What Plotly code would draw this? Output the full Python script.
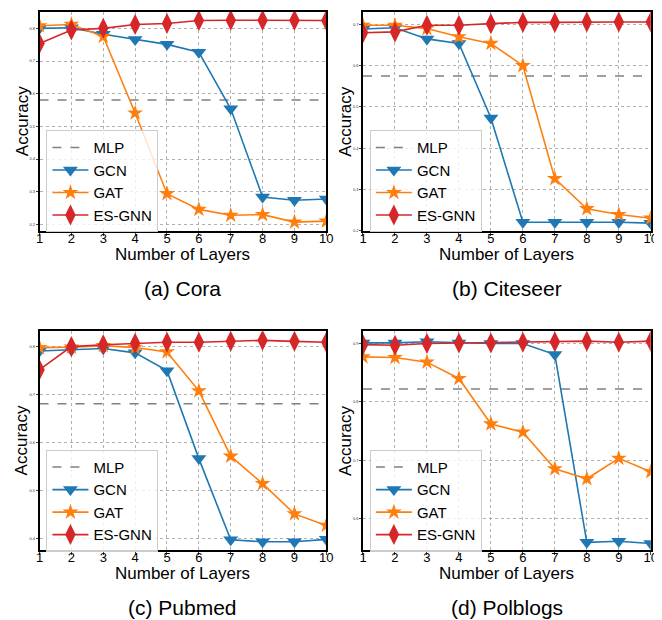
import plotly.graph_objects as go

layers = [1, 2, 3, 4, 5, 6, 7, 8, 9, 10]

cora_gcn = [0.800, 0.802, 0.782, 0.766, 0.751, 0.727, 0.554, 0.284, 0.274, 0.278]
cora_gat = [0.808, 0.812, 0.775, 0.541, 0.294, 0.246, 0.228, 0.230, 0.207, 0.210]
cora_es = [0.754, 0.795, 0.800, 0.812, 0.815, 0.824, 0.825, 0.825, 0.825, 0.824]
cora_mlp = 0.581

cite_gcn = [0.689, 0.692, 0.665, 0.654, 0.473, 0.220, 0.220, 0.220, 0.220, 0.218]
cite_gat = [0.698, 0.698, 0.690, 0.670, 0.654, 0.600, 0.326, 0.253, 0.239, 0.230]
cite_es = [0.680, 0.682, 0.698, 0.698, 0.702, 0.705, 0.705, 0.706, 0.706, 0.706]
cite_mlp = 0.575

pub_gcn = [0.790, 0.792, 0.795, 0.786, 0.749, 0.566, 0.397, 0.393, 0.393, 0.398]
pub_gat = [0.797, 0.798, 0.801, 0.797, 0.788, 0.707, 0.571, 0.514, 0.451, 0.427]
pub_es = [0.751, 0.799, 0.803, 0.806, 0.808, 0.808, 0.810, 0.812, 0.810, 0.808]
pub_mlp = 0.680

pol_gcn = [0.901, 0.901, 0.903, 0.901, 0.900, 0.900, 0.881, 0.559, 0.561, 0.557]
pol_gat = [0.877, 0.876, 0.868, 0.840, 0.762, 0.748, 0.685, 0.668, 0.703, 0.680]
pol_es = [0.898, 0.897, 0.900, 0.901, 0.901, 0.902, 0.903, 0.904, 0.902, 0.904]
pol_mlp = 0.822

captions = ["(a) Cora", "(b) Citeseer", "(c) Pubmed", "(d) Polblogs"]
y_ranges = [[0.18, 0.851], [0.199, 0.731], [0.376, 0.831], [0.546, 0.921]]
y_ticks = [[0.2, 0.3, 0.4, 0.5, 0.6, 0.7, 0.8],
           [0.2, 0.3, 0.4, 0.5, 0.6, 0.7],
           [0.4, 0.5, 0.6, 0.7, 0.8],
           [0.6, 0.7, 0.8, 0.9]]

datasets = [
    (cora_gcn, cora_gat, cora_es, cora_mlp),
    (cite_gcn, cite_gat, cite_es, cite_mlp),
    (pub_gcn, pub_gat, pub_es, pub_mlp),
    (pol_gcn, pol_gat, pol_es, pol_mlp),
]

# page body has an 8px margin; figure is sized so page fits 662x620
OFF = 8
W, H = 662 - OFF, 620 - OFF
FONT = "Liberation Sans, Arial, Helvetica, sans-serif"


def px(xp):
    return (xp - OFF) / W


def py(yp):
    return 1 - (yp - OFF) / H


# pixel boxes for panels in page coordinates: (x0, x1, ytop, ybottom)
boxes = [(36, 327.7, 11.7, 231.7), (365, 657.7, 11.7, 231.7),
         (36, 327.7, 332.3, 551.7), (365, 657.7, 332.3, 551.7)]

fig = go.Figure()
layout = dict(width=W, height=H, margin=dict(l=0, r=0, t=0, b=0),
              paper_bgcolor="white", plot_bgcolor="white", showlegend=True,
              font=dict(family=FONT, color="black"))
annotations = []

C_GCN, C_GAT, C_ES, C_MLP = "#1f77b4", "#ff7f0e", "#d62728", "#808080"

for i, (gcn, gat, es, mlp) in enumerate(datasets):
    n = i + 1
    xa = "x" if n == 1 else f"x{n}"
    ya = "y" if n == 1 else f"y{n}"
    lg = "legend" if n == 1 else f"legend{n}"
    x0, x1, yt, yb = boxes[i]
    fig.add_trace(go.Scatter(x=[layers[0], layers[-1]], y=[mlp, mlp], mode="lines",
                             name="MLP", line=dict(color=C_MLP, dash="dash", width=1.5),
                             xaxis=xa, yaxis=ya, legend=lg))
    fig.add_trace(go.Scatter(x=layers, y=gcn, mode="lines+markers", name="GCN",
                             line=dict(color=C_GCN, width=1.6),
                             marker=dict(symbol="triangle-down", size=13, color=C_GCN),
                             xaxis=xa, yaxis=ya, legend=lg))
    fig.add_trace(go.Scatter(x=layers, y=gat, mode="lines+markers", name="GAT",
                             line=dict(color=C_GAT, width=1.6),
                             marker=dict(symbol="star", size=12, color=C_GAT),
                             xaxis=xa, yaxis=ya, legend=lg))
    fig.add_trace(go.Scatter(x=layers, y=es, mode="lines+markers", name="ES-GNN",
                             line=dict(color=C_ES, width=1.6),
                             marker=dict(symbol="diamond-tall", size=15, color=C_ES),
                             xaxis=xa, yaxis=ya, legend=lg))

    xkey = "xaxis" if n == 1 else f"xaxis{n}"
    ykey = "yaxis" if n == 1 else f"yaxis{n}"
    layout[xkey] = dict(domain=[px(x0), min(px(x1), 1.0)], anchor=ya, range=[1, 10],
                        tickvals=layers, ticks="outside", ticklen=3,
                        ticklabelstandoff=-8,
                        tickfont=dict(size=13, family=FONT, color="black"),
                        showline=True, linecolor="black", linewidth=1.5, mirror=True,
                        showgrid=True, gridcolor="#b0b0b0", griddash="dot", gridwidth=1,
                        zeroline=False)
    layout[ykey] = dict(domain=[py(yb), py(yt)], anchor=xa, range=y_ranges[i],
                        tickvals=y_ticks[i], tickformat=".1f", ticks="outside", ticklen=2,
                        tickfont=dict(size=4, family=FONT, color="#333333"),
                        showline=True, linecolor="black", linewidth=1.5, mirror=True,
                        showgrid=True, gridcolor="#b0b0b0", griddash="dot", gridwidth=1,
                        zeroline=False)
    layout[lg] = dict(x=px(x0 + 7), y=py(yt + 119), xanchor="left", yanchor="top",
                      bgcolor="rgba(255,255,255,0.8)", bordercolor="#cccccc", borderwidth=1,
                      font=dict(size=15, family=FONT, color="black"), tracegroupgap=0,
                      itemwidth=36)

    cx = (x0 + x1) / 2
    annotations.append(dict(text="Number of Layers", x=px(cx), y=py(yb + 23.5),
                            xref="paper", yref="paper", showarrow=False,
                            xanchor="center", yanchor="middle",
                            font=dict(size=17, family=FONT, color="black")))
    annotations.append(dict(text="Accuracy", x=px(x0 - 18), y=py((yt + yb) / 2),
                            xref="paper", yref="paper", showarrow=False, textangle=-90,
                            xanchor="center", yanchor="middle",
                            font=dict(size=17, family=FONT, color="black")))
    annotations.append(dict(text=captions[i], x=px(cx), y=py(yb + 58),
                            xref="paper", yref="paper", showarrow=False,
                            xanchor="center", yanchor="middle",
                            font=dict(size=21, family=FONT, color="black")))

layout["annotations"] = annotations
fig.update_layout(**layout)
fig.write_html("out.html")
